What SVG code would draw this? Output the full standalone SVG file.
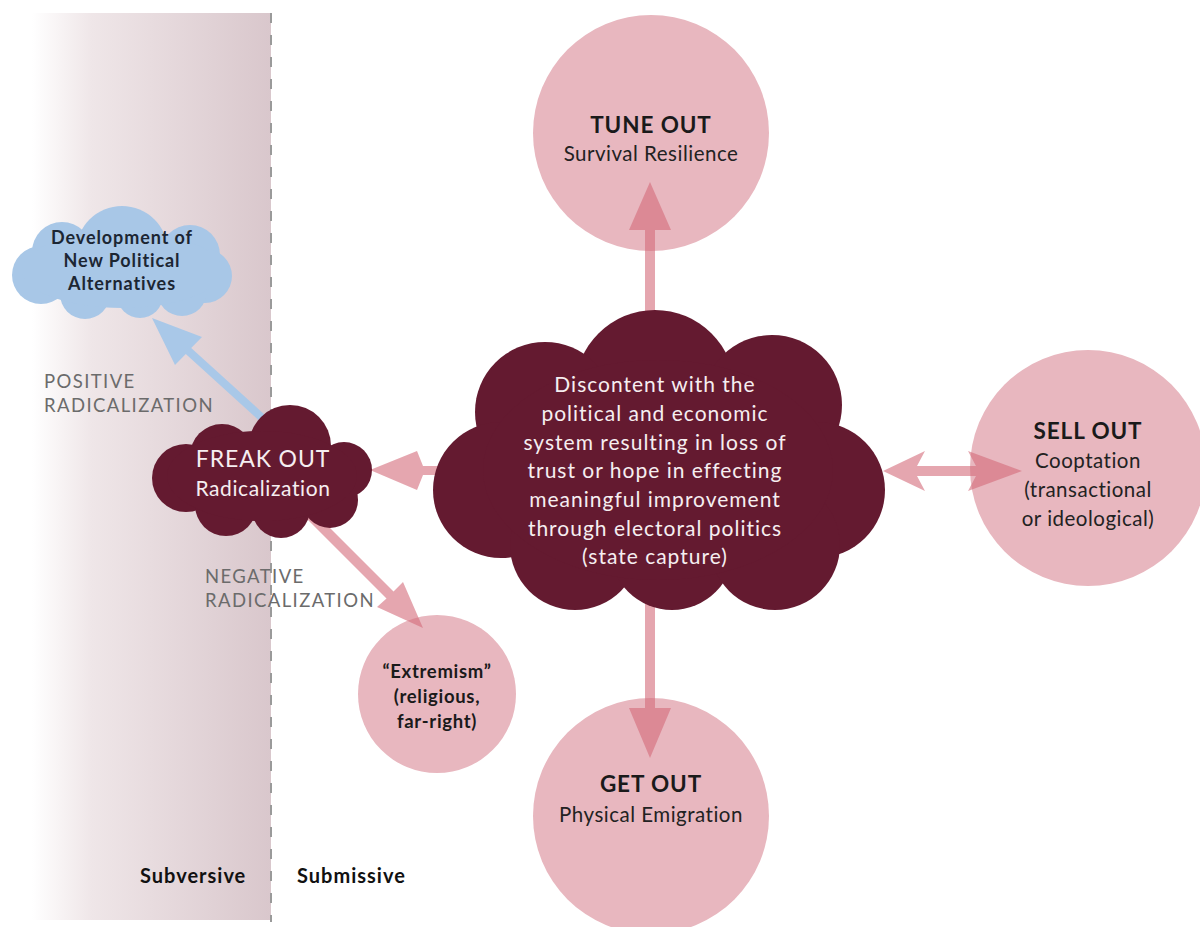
<svg xmlns="http://www.w3.org/2000/svg" width="1200" height="927" viewBox="0 0 1200 927">
<defs>
<linearGradient id="band" x1="0" y1="0" x2="1" y2="0">
<stop offset="0" stop-color="#ffffff"/>
<stop offset="0.25" stop-color="#efe6e8"/>
<stop offset="1" stop-color="#d9c7cc"/>
</linearGradient>
</defs>
<style>
text{font-family:Lato,"Open Sans","Liberation Sans",sans-serif;text-anchor:middle}
.circ{fill:#e8b7bf}
.dark{fill:#641a30}
.blue{fill:#a8c7e7}
.arrow{fill:#d46a7a;fill-opacity:0.6}
.barrow{fill:#a9c8e8}
.t{font-size:22.5px;font-weight:bold;fill:#1a1a1a;letter-spacing:0.9px}
.s{font-size:20.5px;fill:#222;letter-spacing:0.5px}
.w{font-size:21px;fill:#f6eef0;letter-spacing:1px}
.g{font-size:18.5px;fill:#6b6b6b;text-anchor:start;letter-spacing:1.4px}
.b{font-size:18px;font-weight:bold;fill:#1c2633;letter-spacing:0.9px}
.e{font-size:18.5px;fill:#1a1a1a;font-weight:bold;letter-spacing:0.7px}
.side{font-size:20px;font-weight:bold;fill:#111;text-anchor:start;letter-spacing:1px}
</style>
<rect x="32" y="13" width="239" height="907" fill="url(#band)"/>
<line x1="271" y1="13" x2="271" y2="922" stroke="#9a9a9a" stroke-width="2" stroke-dasharray="10 12"/>

<g id="tune-out"><circle class="circ" cx="651" cy="133" r="118"/></g>
<g id="sell-out"><circle class="circ" cx="1088" cy="468" r="118"/></g>
<g id="get-out"><circle class="circ" cx="651" cy="816" r="118"/></g>
<g id="extremism"><circle class="circ" cx="437" cy="694" r="79"/></g>

<g id="connectors">
<path class="arrow" d="M645,330 L645,230 L629,230 L650,182 L671,230 L655,230 L655,330 Z"/>
<path class="arrow" d="M645,590 L645,708 L629,708 L650,758 L671,708 L655,708 L655,590 Z"/>
<path class="arrow" d="M883,471 L925,451 L917,466 L976,466 L968,451 L1022,471 L968,491 L976,476 L917,476 L925,491 Z"/>
<path class="arrow" d="M450,466 L423,466 L417,451 L370,470 L417,490 L423,475 L450,475 Z"/>
<path class="arrow" d="M306.5,518.5 L313.5,511.5 L393.5,591.5 L403,582 L423,628 L377,607 L386.5,598.5 Z"/>
<path class="barrow" d="M272.7,422 L191.2,348 L202,337 L152,318 L175,365 L185.8,354 L267.3,428 Z"/>
</g>

<g id="discontent" class="dark">
<circle cx="655" cy="390" r="80"/>
<circle cx="545" cy="412" r="70"/>
<circle cx="772" cy="405" r="70"/>
<circle cx="501" cy="490" r="68"/>
<circle cx="817" cy="490" r="68"/>
<circle cx="575" cy="545" r="65"/>
<circle cx="672" cy="548" r="62"/>
<circle cx="775" cy="545" r="65"/>
<ellipse cx="658" cy="470" rx="175" ry="110"/>
</g>
<g id="freak-out" class="dark">
<circle cx="290" cy="446" r="41"/>
<circle cx="222" cy="456" r="32"/>
<circle cx="186" cy="478" r="34"/>
<circle cx="344" cy="470" r="28"/>
<circle cx="226" cy="505" r="31"/>
<circle cx="281" cy="509" r="29"/>
<circle cx="330" cy="500" r="28"/>
<ellipse cx="262" cy="476" rx="95" ry="45"/>
</g>
<g id="new-alternatives" class="blue">
<circle cx="122" cy="252" r="46"/>
<circle cx="62" cy="252" r="30"/>
<circle cx="41" cy="275" r="29"/>
<circle cx="190" cy="255" r="30"/>
<circle cx="205" cy="276" r="27"/>
<circle cx="85" cy="294" r="25"/>
<circle cx="140" cy="295" r="23"/>
<circle cx="182" cy="291" r="25"/>
<ellipse cx="122" cy="270" rx="100" ry="38"/>
</g>

<g id="labels">
<text class="t" x="651" y="133">TUNE OUT</text>
<text class="s" x="651" y="161">Survival Resilience</text>
<text class="t" x="1088" y="439">SELL OUT</text>
<text class="s" x="1088" y="468">Cooptation</text>
<text class="s" x="1088" y="497">(transactional</text>
<text class="s" x="1088" y="526">or ideological)</text>
<text class="t" x="651" y="792">GET OUT</text>
<text class="s" x="651" y="822">Physical Emigration</text>
<text class="e" x="437" y="678">“Extremism”</text>
<text class="e" x="437" y="703">(religious,</text>
<text class="e" x="437" y="728">far-right)</text>
<text class="w" x="655" y="392">Discontent with the</text>
<text class="w" x="655" y="421">political and economic</text>
<text class="w" x="655" y="450">system resulting in loss of</text>
<text class="w" x="655" y="478">trust or hope in effecting</text>
<text class="w" x="655" y="507">meaningful improvement</text>
<text class="w" x="655" y="536">through electoral politics</text>
<text class="w" x="655" y="564">(state capture)</text>
<text class="w" x="263" y="467" style="font-size:23px;letter-spacing:0.9px">FREAK OUT</text>
<text class="w" x="263" y="496" style="letter-spacing:0.6px">Radicalization</text>
<text class="b" x="122" y="244">Development of</text>
<text class="b" x="122" y="267">New Political</text>
<text class="b" x="122" y="290">Alternatives</text>
<text class="g" x="44" y="388">POSITIVE</text>
<text class="g" x="44" y="412">RADICALIZATION</text>
<text class="g" x="205" y="583">NEGATIVE</text>
<text class="g" x="205" y="607">RADICALIZATION</text>
<text class="side" x="140" y="883">Subversive</text>
<text class="side" x="297" y="883">Submissive</text>
</g>
</svg>
